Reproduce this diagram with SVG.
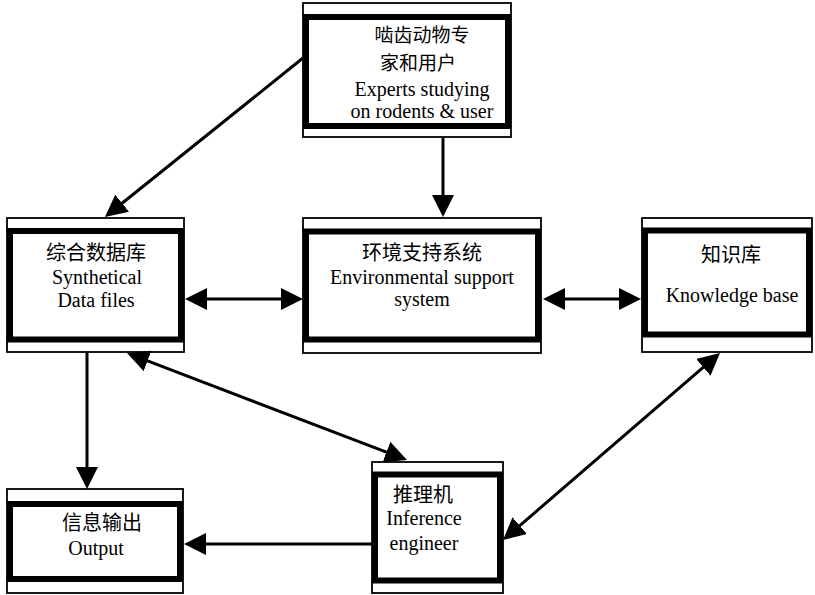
<svg xmlns="http://www.w3.org/2000/svg" width="815" height="595" viewBox="0 0 815 595">
<style>
.outer{fill:#fff;stroke:#000;stroke-width:1.8}
.thick{fill:#fff;stroke:#000;stroke-width:6}
.cn{font-family:"Noto Sans CJK SC",serif;font-size:20px;fill:#000;text-anchor:middle}
.cs{font-size:19px}
.en{font-family:"Liberation Serif",serif;font-size:20px;fill:#000;text-anchor:middle}
.con{stroke:#000;stroke-width:3;fill:none}
</style>
<defs>
<marker id="ah" markerUnits="userSpaceOnUse" markerWidth="22" markerHeight="22" viewBox="0 0 22 22" refX="14" refY="11" orient="auto-start-reverse">
<path d="M0,0 L22,11 L0,22 z" fill="#000"/>
</marker>
</defs>
<rect width="815" height="595" fill="#fff"/>
<g id="experts">
<rect class="outer" x="303" y="3" width="208" height="134"/>
<rect class="thick" x="306" y="17" width="202" height="109"/>
<text class="cn cs" x="422" y="42">啮齿动物专</text>
<text class="cn cs" x="418" y="70">家和用户</text>
<text class="en" x="422" y="96">Experts studying</text>
<text class="en" x="422" y="118">on rodents &amp; user</text>
</g>
<g id="synthetical">
<rect class="outer" x="7" y="218" width="177" height="134"/>
<rect class="thick" x="10" y="231" width="171" height="108.5"/>
<text class="cn" x="96" y="260">综合数据库</text>
<text class="en" x="97" y="284">Synthetical</text>
<text class="en" x="96" y="307">Data files</text>
</g>
<g id="environment">
<rect class="outer" x="303" y="218" width="238" height="135"/>
<rect class="thick" x="306" y="231.5" width="232" height="108"/>
<text class="cn" x="422" y="260">环境支持系统</text>
<text class="en" x="422" y="284">Environmental support</text>
<text class="en" x="422" y="306">system</text>
</g>
<g id="knowledge">
<rect class="outer" x="642" y="218" width="170" height="134"/>
<rect class="thick" x="645" y="230.5" width="164" height="104"/>
<text class="cn" x="731" y="262">知识库</text>
<text class="en" x="732" y="302">Knowledge base</text>
</g>
<g id="output">
<rect class="outer" x="7" y="489" width="176" height="104"/>
<rect class="thick" x="10" y="504" width="170" height="75"/>
<text class="cn" x="102" y="530">信息输出</text>
<text class="en" x="96" y="555">Output</text>
</g>
<g id="inference">
<rect class="outer" x="372" y="462" width="131" height="131"/>
<rect class="thick" x="375" y="474.5" width="125" height="106"/>
<text class="cn" x="423" y="502">推理机</text>
<text class="en" x="424" y="525">Inference</text>
<text class="en" x="424" y="550">engineer</text>
</g>
<g id="connectors">
<line class="con" x1="303" y1="58" x2="111.2" y2="212" marker-end="url(#ah)"/>
<line class="con" x1="443" y1="137" x2="443" y2="209" marker-end="url(#ah)"/>
<line class="con" x1="193" y1="299" x2="295" y2="299" marker-start="url(#ah)" marker-end="url(#ah)"/>
<line class="con" x1="551" y1="299" x2="633" y2="299" marker-start="url(#ah)" marker-end="url(#ah)"/>
<line class="con" x1="87" y1="352" x2="87" y2="481" marker-end="url(#ah)"/>
<line class="con" x1="134.5" y1="355.9" x2="399.5" y2="457.1" marker-start="url(#ah)" marker-end="url(#ah)"/>
<line class="con" x1="713.9" y1="358.2" x2="509.1" y2="534.8" marker-start="url(#ah)" marker-end="url(#ah)"/>
<line class="con" x1="372" y1="544" x2="192" y2="544" marker-end="url(#ah)"/>
</g>
</svg>
